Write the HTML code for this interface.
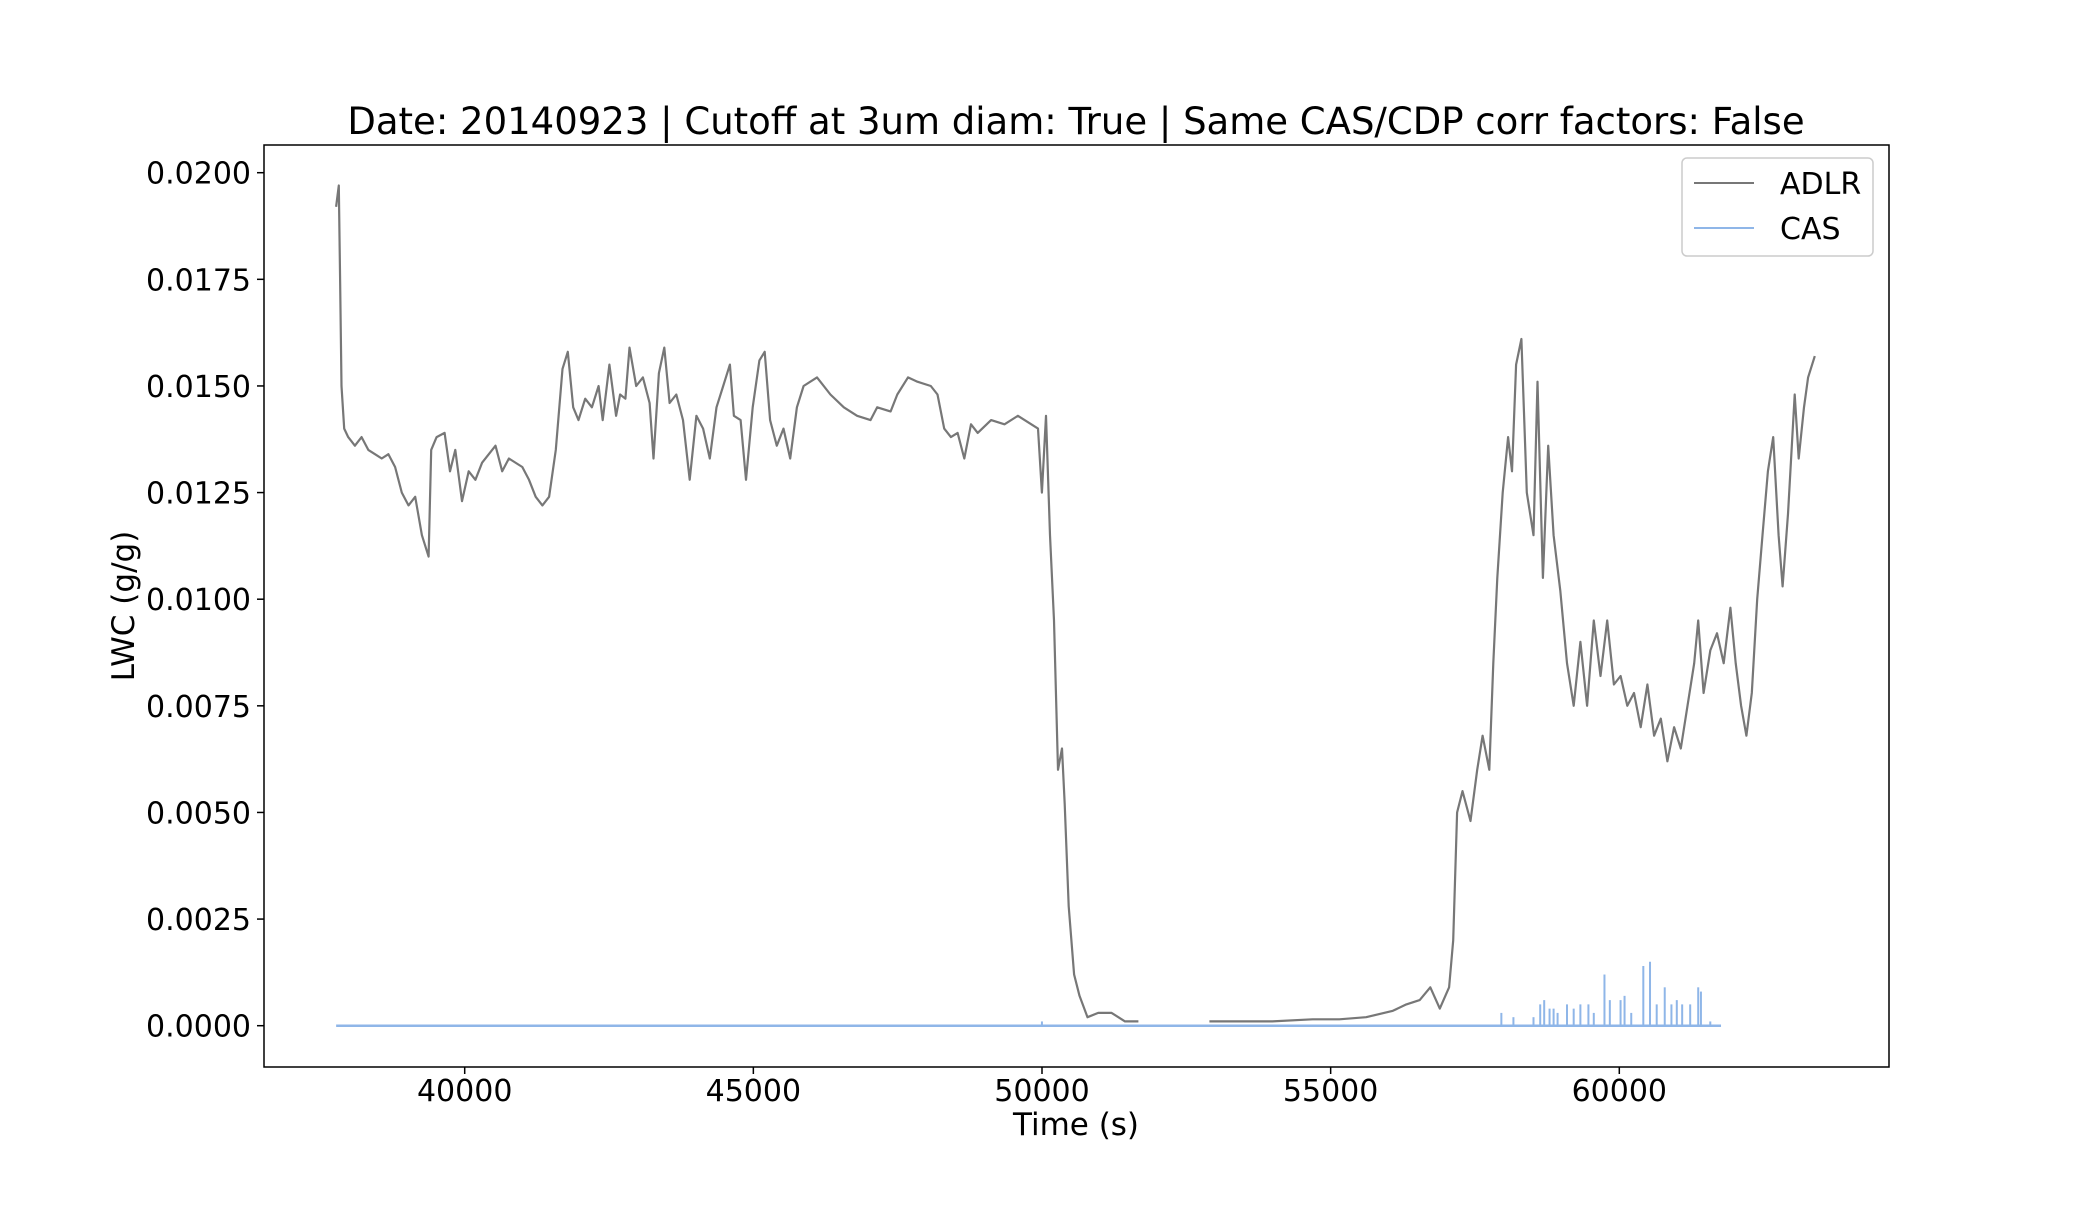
<!DOCTYPE html>
<html><head><meta charset="utf-8"><style>
body{margin:0;background:#fff}
svg text{font-family:"DejaVu Sans","Liberation Sans",sans-serif;fill:#000}
</style></head><body>
<svg id="chart" width="2100" height="1200" xmlns="http://www.w3.org/2000/svg">
<text x="1076" y="134" font-size="37" text-anchor="middle">Date: 20140923 | Cutoff at 3um diam: True | Same CAS/CDP corr factors: False</text>
<g id="marks"></g>
<rect x="264" y="145" width="1625" height="922" fill="none" stroke="#000" stroke-width="1.5"/>
<g id="ticks"></g>
<text x="1076" y="1135" font-size="31" text-anchor="middle">Time (s)</text>
<text transform="translate(134,606) rotate(-90)" font-size="31" text-anchor="middle">LWC (g/g)</text>
<g>
<rect x="1682" y="158" width="191" height="98" rx="5" fill="#fff" stroke="#ccc" stroke-width="1.5"/>
<line x1="1694" y1="183" x2="1754" y2="183" stroke="#777" stroke-width="2"/>
<text x="1780" y="194" font-size="30">ADLR</text>
<line x1="1694" y1="228" x2="1754" y2="228" stroke="#8fb6e8" stroke-width="2"/>
<text x="1780" y="239" font-size="30">CAS</text>
</g>
</svg>
<script>
const adlrTime=[37773,37819,37842,37866,37912,37982,38098,38214,38330,38446,38562,38678,38794,38910,39026,39142,39258,39374,39420,39513,39652,39745,39838,39954,40070,40186,40302,40534,40650,40766,40998,41114,41230,41346,41462,41578,41694,41786,41879,41972,42088,42204,42320,42390,42506,42622,42691,42784,42854,42970,43086,43202,43271,43364,43457,43550,43666,43782,43898,44014,44130,44246,44362,44478,44594,44663,44779,44872,44988,45104,45197,45290,45406,45522,45638,45754,45870,46102,46334,46566,46798,47030,47146,47378,47494,47679,47842,48074,48190,48306,48422,48538,48654,48770,48886,49118,49350,49582,49814,49930,49999,50069,50138,50208,50278,50347,50394,50463,50556,50649,50788,50974,51206,51438,51670,null,52899,53990,54686,55150,55614,56078,56310,56542,56727,56890,57052,57122,57191,57284,57423,57539,57632,57748,57818,57887,57980,58073,58142,58212,58305,58398,58514,58583,58676,58769,58862,58978,59094,59210,59326,59442,59558,59674,59790,59906,60022,60138,60254,60370,60486,60602,60718,60834,60950,61066,61182,61298,61367,61460,61576,61692,61808,61924,62017,62110,62202,62295,62388,62481,62574,62666,62759,62829,62922,63038,63107,63200,63270,63386];
const adlrLwc=[0.0192,0.0197,0.0175,0.015,0.014,0.0138,0.0136,0.0138,0.0135,0.0134,0.0133,0.0134,0.0131,0.0125,0.0122,0.0124,0.0115,0.011,0.0135,0.0138,0.0139,0.013,0.0135,0.0123,0.013,0.0128,0.0132,0.0136,0.013,0.0133,0.0131,0.0128,0.0124,0.0122,0.0124,0.0135,0.0154,0.0158,0.0145,0.0142,0.0147,0.0145,0.015,0.0142,0.0155,0.0143,0.0148,0.0147,0.0159,0.015,0.0152,0.0146,0.0133,0.0153,0.0159,0.0146,0.0148,0.0142,0.0128,0.0143,0.014,0.0133,0.0145,0.015,0.0155,0.0143,0.0142,0.0128,0.0145,0.0156,0.0158,0.0142,0.0136,0.014,0.0133,0.0145,0.015,0.0152,0.0148,0.0145,0.0143,0.0142,0.0145,0.0144,0.0148,0.0152,0.0151,0.015,0.0148,0.014,0.0138,0.0139,0.0133,0.0141,0.0139,0.0142,0.0141,0.0143,0.0141,0.014,0.0125,0.0143,0.0115,0.0095,0.006,0.0065,0.0052,0.0028,0.0012,0.0007,0.0002,0.0003,0.0003,0.0001,0.0001,null,0.0001,0.0001,0.00015,0.00015,0.0002,0.00035,0.0005,0.0006,0.0009,0.0004,0.0009,0.002,0.005,0.0055,0.0048,0.006,0.0068,0.006,0.0085,0.0105,0.0125,0.0138,0.013,0.0155,0.0161,0.0125,0.0115,0.0151,0.0105,0.0136,0.0115,0.0102,0.0085,0.0075,0.009,0.0075,0.0095,0.0082,0.0095,0.008,0.0082,0.0075,0.0078,0.007,0.008,0.0068,0.0072,0.0062,0.007,0.0065,0.0075,0.0085,0.0095,0.0078,0.0088,0.0092,0.0085,0.0098,0.0085,0.0075,0.0068,0.0078,0.01,0.0115,0.013,0.0138,0.0115,0.0103,0.012,0.0148,0.0133,0.0145,0.0152,0.0157];
const casRange=[37773,61762];
const casSpikeTime=[49999,57957,58166,58514,58630,58699,58792,58862,58931,59094,59210,59326,59465,59558,59743,59836,60022,60091,60207,60416,60532,60648,60787,60903,60996,61089,61228,61367,61414,61576];
const casSpikeLwc=[0.0001,0.0003,0.0002,0.0002,0.0005,0.0006,0.0004,0.0004,0.0003,0.0005,0.0004,0.0005,0.0005,0.0003,0.0012,0.0006,0.0006,0.0007,0.0003,0.0014,0.0015,0.0005,0.0009,0.0005,0.0006,0.0005,0.0005,0.0009,0.0008,0.0001];
const xTicks=[40000,45000,50000,55000,60000];
const yTicks=[0,0.0025,0.005,0.0075,0.01,0.0125,0.015,0.0175,0.02];
const yTickLabels=["0.0000","0.0025","0.0050","0.0075","0.0100","0.0125","0.0150","0.0175","0.0200"];

const NS="http://www.w3.org/2000/svg";
const X=t=>464.7+(t-40000)*0.05773;
const Y=v=>1025.7-v*42650;
const marks=document.getElementById('marks'),ticks=document.getElementById('ticks');
function mk(tag,attrs,parent){const e=document.createElementNS(NS,tag);for(const k in attrs)e.setAttribute(k,attrs[k]);parent.appendChild(e);return e;}

const base=mk('line',{x1:X(casRange[0]),x2:X(casRange[1]),y1:Y(0),y2:Y(0),stroke:'#8fb6e8','stroke-width':2.5},marks);


casSpikeTime.forEach((t,i)=>{
  const s=mk('line',{x1:X(t),x2:X(t),y1:Y(0),y2:Y(casSpikeLwc[i]),stroke:'#8fb6e8','stroke-width':2},marks);
  
  
});
let d='',pen=false;
adlrTime.forEach((t,i)=>{
  if(t===null){pen=false;return;}
  d+=(pen?'L':'M')+X(t).toFixed(1)+','+Y(adlrLwc[i]).toFixed(1);pen=true;
});
const p=mk('path',{d:d,fill:'none',stroke:'#777','stroke-width':2.2,'stroke-linejoin':'round'},marks);



xTicks.forEach(t=>{
  mk('line',{x1:X(t),x2:X(t),y1:1067,y2:1074,stroke:'#000','stroke-width':1.5},ticks);
  const tx=mk('text',{x:X(t),y:1101,'font-size':30,'text-anchor':'middle'},ticks);
  tx.textContent=t;
  
  
});
yTicks.forEach((v,i)=>{
  mk('line',{x1:257,x2:264,y1:Y(v),y2:Y(v),stroke:'#000','stroke-width':1.5},ticks);
  const tx=mk('text',{x:251,y:Y(v)+11,'font-size':30,'text-anchor':'end'},ticks);
  tx.textContent=yTickLabels[i];
  
  
});
</script>
</body></html>
